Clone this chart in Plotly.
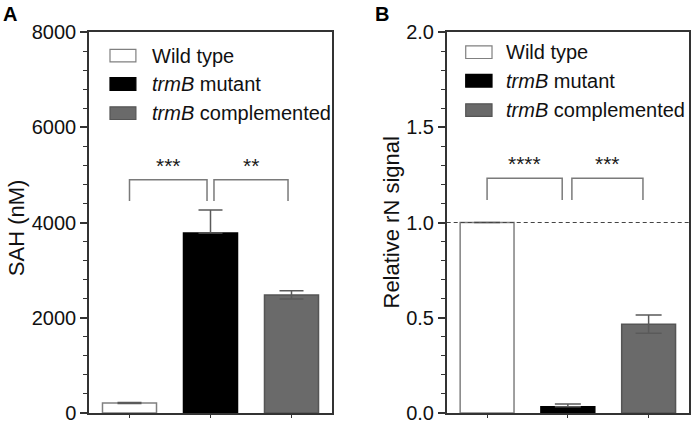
import plotly.graph_objects as go

# ---------------- data ----------------
categories = ["Wild type", "trmB mutant", "trmB complemented"]
legend_labels = ["Wild type", "<i>trmB</i> mutant", "<i>trmB</i> complemented"]

sah_values = [210, 3780, 2480]
sah_err_up = [12, 480, 85]
sah_err_down = [12, 0, 85]

rn_values = [1.0, 0.033, 0.466]
rn_err_up = [0.0, 0.014, 0.048]
rn_err_down = [0.0, 0.0, 0.048]

sah_ticks = [0, 2000, 4000, 6000, 8000]
rn_ticks = [0.0, 0.5, 1.0, 1.5, 2.0]
rn_ticktext = ["0.0", "0.5", "1.0", "1.5", "2.0"]

sig_A = [(0, 1, "***"), (1, 2, "**")]
sig_A_top, sig_A_bottom = 4900, 4450
sig_B = [(0, 1, "****"), (1, 2, "***")]
sig_B_top, sig_B_bottom = 1.232, 1.118
reference_level = 1.0

# ---------------- styles ----------------
FONT = "Arial, Liberation Sans, Helvetica, sans-serif"
fill_colors = ["#ffffff", "#000000", "#6a6a6a"]
line_colors = ["#808080", "#000000", "#555555"]
ERR_COLOR = "#5a5a5a"
BRACKET_COLOR = "#7a7a7a"
AXIS_COLOR = "#333333"

fig = go.Figure()

fig.add_trace(go.Bar(
    x=categories, y=sah_values, xaxis="x", yaxis="y",
    marker=dict(color=fill_colors, line=dict(color=line_colors, width=1.5)),
    width=0.667,
    error_y=dict(type="data", symmetric=False, array=sah_err_up, arrayminus=sah_err_down,
                 color=ERR_COLOR, thickness=1.5, width=12),
    showlegend=False, hoverinfo="x+y",
))
fig.add_trace(go.Bar(
    x=categories, y=rn_values, xaxis="x2", yaxis="y2",
    marker=dict(color=fill_colors, line=dict(color=line_colors, width=1.5)),
    width=0.667,
    error_y=dict(type="data", symmetric=False, array=rn_err_up, arrayminus=rn_err_down,
                 color=ERR_COLOR, thickness=1.5, width=13),
    showlegend=False, hoverinfo="x+y",
))

shapes = []
annotations = []

# significance brackets
def add_brackets(sigs, top, bottom, xref, yref, gap_l, gap_r):
    for a, b, label in sigs:
        x0 = a + (gap_l if a > 0 else 0.0)
        x1 = b - gap_r
        shapes.append(dict(
            type="path", xref=xref, yref=yref,
            path=f"M {x0},{bottom} L {x0},{top} L {x1},{top} L {x1},{bottom}",
            line=dict(color=BRACKET_COLOR, width=1.5),
        ))
        annotations.append(dict(
            x=(x0 + x1) / 2, y=top, xref=xref, yref=yref, text=label,
            showarrow=False, yanchor="bottom", yshift=1,
            font=dict(family=FONT, size=21, color="#1a1a1a"),
        ))

add_brackets(sig_A, sig_A_top, sig_A_bottom, "x", "y", 0.043, 0.043)
add_brackets(sig_B, sig_B_top, sig_B_bottom, "x2", "y2", 0.05, 0.07)

# dashed reference line in panel B
shapes.append(dict(type="line", xref="x2 domain", yref="y2", x0=0, x1=1,
                   y0=reference_level, y1=reference_level,
                   line=dict(color="#444444", width=1.2, dash="4px,3px")))

# custom legends
def add_legend(xr, yr, bx0, bx1, tx, ys, half_h):
    for i, (lab, y) in enumerate(zip(legend_labels, ys)):
        shapes.append(dict(type="rect", xref=xr, yref=yr,
                           x0=bx0, x1=bx1, y0=y - half_h, y1=y + half_h,
                           fillcolor=fill_colors[i],
                           line=dict(color=line_colors[i] if i != 1 else "#000000", width=1.2)))
        annotations.append(dict(x=tx, y=y, xref=xr, yref=yr, text=lab, showarrow=False,
                                xanchor="left", yanchor="middle",
                                font=dict(family=FONT, size=20, color="#111111")))

add_legend("x domain", "y domain", 0.0864, 0.193, 0.25, [0.938, 0.8635, 0.787], 0.0166)
add_legend("x2 domain", "y2 domain", 0.0785, 0.187, 0.237, [0.947, 0.872, 0.795], 0.0166)

# axis titles
annotations.append(dict(x=16 / 693, y=0.485, xref="paper", yref="y domain", text="SAH (nM)",
                        textangle=-90, showarrow=False, xanchor="center", yanchor="middle",
                        font=dict(family=FONT, size=22, color="#111111")))
annotations.append(dict(x=391 / 693, y=0.5, xref="paper", yref="y2 domain", text="Relative rN signal",
                        textangle=-90, showarrow=False, xanchor="center", yanchor="middle",
                        font=dict(family=FONT, size=22, color="#111111")))

# panel letters
annotations.append(dict(x=10 / 693, y=1 - 14 / 425, xref="paper", yref="paper", text="<b>A</b>",
                        showarrow=False, xanchor="center", yanchor="middle",
                        font=dict(family=FONT, size=20, color="#000000")))
annotations.append(dict(x=382 / 693, y=1 - 14 / 425, xref="paper", yref="paper", text="<b>B</b>",
                        showarrow=False, xanchor="center", yanchor="middle",
                        font=dict(family=FONT, size=20, color="#000000")))

xcommon = dict(showticklabels=False, ticks="outside", ticklen=3, tickwidth=1.2, tickcolor=AXIS_COLOR,
               showgrid=False, zeroline=False, automargin=False,
               showline=True, linecolor=AXIS_COLOR, linewidth=1.5, mirror=True,
               range=[-0.5, 2.5], categoryorder="array", categoryarray=categories, fixedrange=True)
ycommon = dict(showgrid=False, zeroline=False, showline=True, linecolor=AXIS_COLOR, linewidth=1.5,
               mirror=True, ticks="outside", ticklen=7, tickwidth=1.5, tickcolor=AXIS_COLOR,
               automargin=False, fixedrange=True,
               tickfont=dict(family=FONT, size=20, color="#111111"))

y_dom = [1 - 413 / 425, 1 - 32 / 425]

fig.update_layout(
    template="none",
    width=693, height=425,
    margin=dict(l=0, r=0, t=0, b=0, pad=0),
    paper_bgcolor="white", plot_bgcolor="white",
    showlegend=False,
    bargap=0.333,
    xaxis=dict(domain=[89 / 693, 332 / 693], anchor="y", **xcommon),
    xaxis2=dict(domain=[446.7 / 693, 689 / 693], anchor="y2", **xcommon),
    yaxis=dict(domain=y_dom, anchor="x", range=[0, 8000], tickvals=sah_ticks,
               minor=dict(dtick=400, ticks="outside", ticklen=4, tickwidth=1.2, tickcolor=AXIS_COLOR),
               **ycommon),
    yaxis2=dict(domain=y_dom, anchor="x2", range=[0, 2.0], tickvals=rn_ticks, ticktext=rn_ticktext,
                minor=dict(dtick=0.1, ticks="outside", ticklen=4, tickwidth=1.2, tickcolor=AXIS_COLOR),
                **ycommon),
    shapes=shapes,
    annotations=annotations,
    font=dict(family=FONT),
)

fig.write_html("out.html", config={"displayModeBar": False},
               post_script="document.body.style.margin='0';")
